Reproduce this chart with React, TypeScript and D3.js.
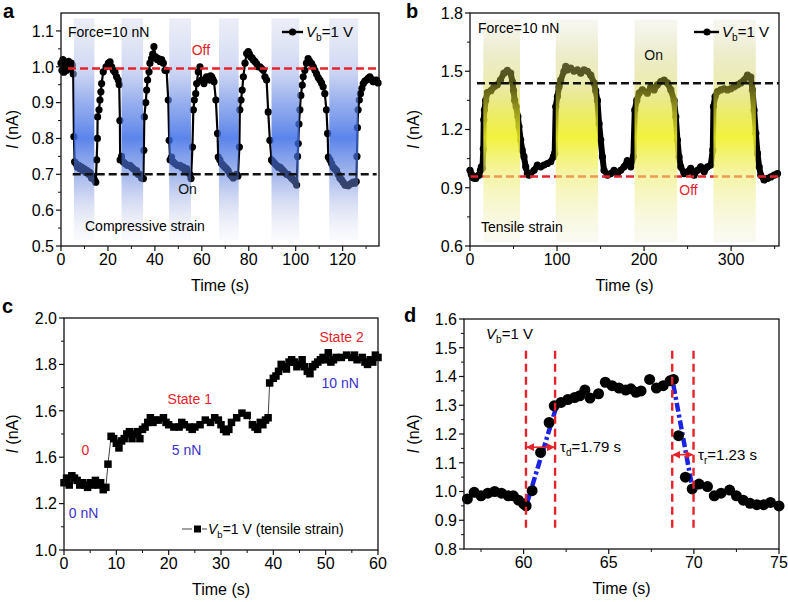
import React from 'react';
import * as d3 from 'd3';

const FONT = '"Liberation Sans", Arial, Helvetica, sans-serif';
const RED = '#e5232b';
const BLUE_TXT = '#3b30c8';

type Pt = [number, number];

// ---------- Panel a: compressive strain ----------
const aSeries: Pt[] = [
  [0, 1.01], [0.4, 0.99], [0.8, 1.02], [1.2, 0.985], [1.6, 1.0], [2.0, 1.01], [2.4, 0.99], [2.8, 1.0], [3.2, 1.015], [3.6, 0.995], [4.0, 1.0], [4.4, 1.01], [4.8, 1.005], [5.2, 0.98],
  [5.5, 0.805], [5.8, 0.735],
  [6.4, 0.73], [7.0, 0.72], [7.6, 0.725], [8.2, 0.715], [8.8, 0.72], [9.4, 0.71], [10.0, 0.715], [10.6, 0.705], [11.2, 0.71], [11.8, 0.7], [12.4, 0.705], [13.0, 0.69], [13.6, 0.695], [14.2, 0.685], [14.8, 0.678],
  [15.2, 0.74], [15.5, 0.8], [15.6, 0.86], [16.2, 0.88], [16.6, 0.907], [17.0, 0.93], [17.3, 0.953], [18.0, 0.986], [19.2, 1.0], [20.2, 1.01], [20.9, 1.014], [21.6, 1.0], [22.3, 0.99], [23.0, 0.985], [23.7, 0.972], [24.4, 0.963], [24.8, 0.95], [25.1, 0.85], [25.2, 0.74],
  [25.8, 0.75], [26.5, 0.735], [27.3, 0.73], [28.3, 0.725], [29.4, 0.725], [30.1, 0.72], [30.8, 0.716], [31.5, 0.712], [32.2, 0.71], [32.9, 0.7], [33.6, 0.7], [34.3, 0.69], [35.1, 0.688],
  [35.3, 0.767], [35.5, 0.86], [36.1, 0.9], [36.5, 0.935], [36.9, 0.963], [37.5, 0.986], [37.9, 1.01], [38.6, 1.023], [39.1, 1.035], [39.6, 1.056], [40.3, 1.028], [41.0, 1.02], [41.5, 1.023], [42.2, 1.015], [42.9, 1.02], [43.6, 1.01], [44.3, 0.99], [45.0, 0.99], [45.7, 0.907], [46.1, 0.795],
  [46.5, 0.74], [47.1, 0.748], [47.8, 0.735], [48.6, 0.73], [49.6, 0.725], [50.7, 0.725], [51.4, 0.72], [52.1, 0.72], [52.8, 0.71], [53.5, 0.716], [54.2, 0.705], [54.9, 0.7], [55.4, 0.688],
  [56.0, 0.776], [56.4, 0.88], [56.8, 0.907], [57.4, 0.925], [57.8, 0.953], [58.5, 0.986], [59.2, 1.0], [59.9, 0.963], [60.4, 0.96], [60.9, 0.953], [61.5, 0.965], [62.0, 0.972], [62.6, 0.97], [63.2, 0.963], [63.7, 0.975], [64.2, 0.972], [64.7, 0.965], [65.2, 0.958], [66.0, 0.907], [66.7, 0.814], [67.0, 0.748],
  [67.7, 0.74], [68.4, 0.73], [69.1, 0.725], [69.8, 0.72], [70.5, 0.716], [71.2, 0.71], [72.0, 0.7], [72.7, 0.695], [73.4, 0.69], [74.1, 0.695], [74.8, 0.7], [75.4, 0.695],
  [76.0, 0.776], [76.2, 0.88], [76.7, 0.907], [77.2, 0.935], [77.7, 0.972], [78.4, 1.01], [79.1, 1.037], [79.8, 1.042], [80.3, 1.035], [80.8, 1.028], [81.4, 1.025], [81.9, 1.019], [82.6, 1.015], [83.3, 1.009], [84.0, 1.0], [84.8, 1.0], [85.5, 0.995], [86.2, 0.99], [86.9, 0.972], [87.6, 0.963], [88.3, 0.874], [89.0, 0.795], [89.7, 0.74],
  [90.4, 0.735], [91.1, 0.73], [91.8, 0.725], [92.6, 0.72], [93.3, 0.72], [94.0, 0.715], [94.7, 0.71], [95.4, 0.705], [96.1, 0.7], [96.8, 0.7], [97.5, 0.695], [98.2, 0.69], [99.0, 0.685], [99.7, 0.68], [100.4, 0.67],
  [100.8, 0.75], [101.1, 0.786], [101.4, 0.84], [101.8, 0.88], [102.2, 0.92], [102.8, 0.949], [103.2, 0.972], [103.9, 0.99], [104.6, 1.01], [105.3, 1.023], [106.0, 1.015], [106.8, 1.009], [107.5, 1.0], [108.2, 0.99], [108.9, 0.98], [109.6, 0.97], [110.3, 0.963], [111.0, 0.955], [111.7, 0.944], [112.4, 0.925], [113.1, 0.88], [113.6, 0.814], [113.9, 0.748], [114.6, 0.74],
  [115.3, 0.73], [116.0, 0.72], [116.7, 0.715], [117.4, 0.71], [118.1, 0.7], [118.8, 0.69], [119.5, 0.685], [120.2, 0.678], [121.0, 0.67], [121.7, 0.67], [122.4, 0.668], [123.1, 0.672], [123.8, 0.675], [124.5, 0.678], [125.2, 0.675], [125.8, 0.68],
  [126.1, 0.75], [126.3, 0.83], [126.6, 0.88], [127.1, 0.907], [127.6, 0.925], [128.2, 0.94], [128.8, 0.953], [129.5, 0.96], [130.2, 0.963], [130.9, 0.968], [131.6, 0.972], [132.3, 0.965], [133.0, 0.958], [133.7, 0.962], [134.4, 0.963], [135.1, 0.955],
];
const aBands: Pt[] = [[5.5, 14.2], [25.8, 35.0], [46.1, 55.4], [67.3, 75.7], [89.7, 101.5], [114.3, 126.6]];
const aOffLevel = 0.995;
const aOnLevel = 0.7;
const aXTicks = [0, 20, 40, 60, 80, 100, 120];
const aYTicks = [0.5, 0.6, 0.7, 0.8, 0.9, 1.0, 1.1];

// ---------- Panel b: tensile strain ----------
const bSeries: Pt[] = [
  [0, 0.99], [1.5, 0.97], [2.7, 0.956], [4.5, 0.95], [6.5, 0.948], [8.5, 0.96], [10.3, 0.965], [12, 0.99], [13, 1.008], [14.3, 1.0],
  [15.3, 1.1], [15.8, 1.25], [16.5, 1.3], [18, 1.35], [20, 1.39], [24, 1.4], [27.6, 1.42], [31.4, 1.43], [35, 1.455], [39, 1.49], [43, 1.504], [46.7, 1.49], [48.7, 1.447], [50, 1.4], [51.3, 1.35], [53, 1.318], [55, 1.266], [56.3, 1.215], [58.2, 1.146], [60, 1.094], [62, 1.06], [64, 1.008], [65.9, 0.973], [67.8, 0.965], [69.7, 0.973], [73.6, 0.99], [77.4, 1.017], [81.2, 1.008], [85, 1.017], [88.9, 1.025], [92.7, 1.034], [95.8, 1.06], [97.3, 1.077],
  [98.5, 1.318], [100.4, 1.37], [102.3, 1.42], [104.2, 1.455], [108, 1.5], [110, 1.525], [111.9, 1.507], [115.7, 1.516], [119.5, 1.5], [123.4, 1.507], [127.2, 1.49], [131, 1.507], [134.9, 1.5], [138.7, 1.48], [142.5, 1.44], [144.4, 1.4], [146.4, 1.35], [148.3, 1.23], [150.2, 1.146], [152.1, 1.06], [154, 0.99], [157.9, 0.965], [161.7, 0.973], [165.5, 0.99], [169.3, 0.973], [173.2, 0.99], [177, 1.008], [180.8, 1.04], [184.7, 1.008], [187.7, 1.06],
  [189.3, 1.3], [191.6, 1.35], [194.3, 1.387], [198, 1.404], [203.8, 1.387], [207.7, 1.42], [211.5, 1.404], [215.3, 1.43], [219.2, 1.447], [223, 1.455], [226.8, 1.44], [230.7, 1.404], [234.5, 1.35], [236.4, 1.266], [238.3, 1.146], [240.2, 1.06], [242.1, 1.008], [246, 0.973], [249.8, 0.982], [253.6, 1.0], [257.5, 0.965], [261.3, 0.99], [265.1, 1.008], [269, 0.982], [272.8, 1.008], [276.6, 1.017], [278.9, 1.094],
  [279.7, 1.318], [281.6, 1.37], [284.3, 1.395], [288.1, 1.404], [292, 1.41], [295.8, 1.404], [299.6, 1.41], [303.4, 1.42], [307.3, 1.43], [311.1, 1.44], [314.9, 1.455], [318.8, 1.48], [322.6, 1.47], [324.5, 1.404], [326.4, 1.3], [328.4, 1.18], [330.3, 1.077], [332.2, 1.008], [334.1, 0.965], [337.9, 0.94], [341.8, 0.948], [345.6, 0.956], [349.4, 0.965], [353.3, 0.973],
];
const bBands: Pt[] = [[15.3, 57.5], [98.5, 147], [189, 238], [279.7, 328.4]];
const bOnLevel = 1.438;
const bOffLevel = 0.958;
const bXTicks = [0, 100, 200, 300];
const bYTicks = [0.6, 0.9, 1.2, 1.5, 1.8];

// ---------- Panel c: force steps ----------
const cSeries: Pt[] = [
  [0, 1.29], [0.5, 1.31], [1, 1.28], [1.5, 1.32], [2, 1.31], [2.5, 1.3], [3, 1.28], [3.5, 1.29], [4, 1.28], [4.5, 1.27], [5, 1.29], [5.5, 1.28], [6, 1.3], [6.5, 1.28], [7, 1.29], [7.5, 1.26], [8, 1.27],
  [8.4, 1.37], [9, 1.49], [9.5, 1.48], [10, 1.46], [10.5, 1.44], [11, 1.47], [11.5, 1.48], [12, 1.5], [12.5, 1.51], [13, 1.48], [13.5, 1.5], [14, 1.51], [14.5, 1.48], [15, 1.52], [15.5, 1.53], [16, 1.55], [16.5, 1.57], [17, 1.55], [17.5, 1.56], [18, 1.56], [19, 1.57], [19.5, 1.55], [20, 1.54], [21, 1.53], [22, 1.53], [22.5, 1.55], [23, 1.54], [24, 1.53], [24.5, 1.52], [25, 1.53], [26, 1.54], [27, 1.56], [28, 1.55], [28.8, 1.57], [29.5, 1.56], [30, 1.54], [30.5, 1.52], [31, 1.51], [31.5, 1.52], [32, 1.55], [33, 1.57], [34, 1.59], [35, 1.58], [36, 1.54], [36.5, 1.53], [37, 1.52], [37.5, 1.55], [38, 1.54], [38.5, 1.56], [39, 1.57],
  [39.3, 1.72], [40, 1.74], [40.5, 1.75], [41, 1.77], [41.5, 1.8], [42, 1.79], [42.5, 1.78], [43, 1.81], [43.5, 1.82], [44, 1.81], [44.5, 1.79], [45, 1.8], [45.5, 1.82], [46, 1.79], [46.5, 1.77], [47, 1.76], [47.5, 1.79], [48, 1.8], [48.5, 1.81], [49, 1.82], [49.5, 1.83], [50, 1.82], [50.5, 1.85], [51, 1.81], [51.5, 1.82], [52, 1.83], [53, 1.83], [54, 1.84], [55, 1.83], [55.5, 1.84], [56, 1.82], [57, 1.83], [57.5, 1.81], [58, 1.8], [58.5, 1.82], [59, 1.81], [59.5, 1.84], [60, 1.83],
];
const cXTicks = [0, 10, 20, 30, 40, 50, 60];
const cYTicks = [1.0, 1.2, 1.4, 1.6, 1.8, 2.0];
const cYLabels = ['1.0', '1.2', '1.6', '1.6', '1.8', '2.0'];

// ---------- Panel d: response time ----------
const dSeries: Pt[] = [
  [56.7, 0.974], [57.1, 0.997], [57.5, 0.985], [57.9, 0.994], [58.3, 1.0], [58.7, 0.994], [59.1, 0.985], [59.4, 0.985], [59.7, 0.97], [60.0, 0.957], [60.15, 0.95],
  [60.5, 1.003], [61.0, 1.136], [61.5, 1.24], [61.8, 1.298],
  [62.2, 1.31], [62.6, 1.32], [63.0, 1.327], [63.3, 1.333], [63.6, 1.353], [63.9, 1.325], [64.4, 1.34], [64.8, 1.38], [65.2, 1.368], [65.6, 1.36], [66.0, 1.353], [66.3, 1.357], [66.6, 1.345], [66.9, 1.35], [67.4, 1.39], [67.8, 1.36], [68.2, 1.368], [68.6, 1.385], [68.8, 1.39],
  [69.1, 1.194], [69.5, 1.05], [69.9, 1.009],
  [70.3, 1.026], [70.8, 1.017], [71.2, 0.985], [71.6, 0.994], [72.1, 1.005], [72.5, 0.985], [72.9, 0.97], [73.3, 0.959], [73.7, 0.954], [74.1, 0.954], [74.5, 0.962], [75.0, 0.95],
];
const dRiseFit: Pt[] = [[60.2, 0.96], [62.0, 1.31]];
const dFallFit: Pt[] = [[68.8, 1.37], [69.95, 1.0]];
const dMarkers = [60.14, 61.85, 68.73, 69.98];
const dXTicks = [60, 65, 70, 75];
const dYTicks = [0.8, 0.9, 1.0, 1.1, 1.2, 1.3, 1.4, 1.5, 1.6];

// ---------- helpers ----------
type Lin = d3.ScaleLinear<number, number>;

function ITitle({ x, y }: { x: number; y: number }) {
  return (
    <text transform={`translate(${x},${y}) rotate(-90)`} textAnchor="middle" fontSize={16} fontFamily={FONT}>
      <tspan fontStyle="italic">I</tspan> (nA)
    </text>
  );
}

function Vb({ x, y, size = 15, rest = '=1 V' }: { x: number; y: number; size?: number; rest?: string }) {
  return (
    <text x={x} y={y} fontSize={size} fontFamily={FONT}>
      <tspan fontStyle="italic">V</tspan>
      <tspan fontSize={size * 0.68} dy={4}>b</tspan>
      <tspan dy={-4}>{rest}</tspan>
    </text>
  );
}

function Axes({ x, y, xTicks, xMinor, yTicks, yMinor, yLabels, yFmt, titleOffset }: {
  x: Lin; y: Lin; xTicks: number[]; xMinor: number[]; yTicks: number[]; yMinor: number[];
  yLabels?: string[]; yFmt: (v: number) => string; titleOffset: number;
}) {
  const [x0, x1] = x.range();
  const [yb, yt] = y.range();
  return (
    <g fontFamily={FONT}>
      <rect x={x0} y={yt} width={x1 - x0} height={yb - yt} fill="none" stroke="#111" strokeWidth={1.3} />
      {xTicks.map((v) => (
        <g key={'xt' + v}>
          <line x1={x(v)} x2={x(v)} y1={yb} y2={yb + 5} stroke="#111" strokeWidth={1.2} />
          <text x={x(v)} y={yb + 19} textAnchor="middle" fontSize={16}>{v}</text>
        </g>
      ))}
      {xMinor.map((v) => (
        <line key={'xm' + v} x1={x(v)} x2={x(v)} y1={yb} y2={yb + 3} stroke="#111" strokeWidth={1} />
      ))}
      {yTicks.map((v, i) => (
        <g key={'yt' + v}>
          <line x1={x0 - 5} x2={x0} y1={y(v)} y2={y(v)} stroke="#111" strokeWidth={1.2} />
          <text x={x0 - 7} y={y(v)} dy="0.36em" textAnchor="end" fontSize={16}>{yLabels ? yLabels[i] : yFmt(v)}</text>
        </g>
      ))}
      {yMinor.map((v) => (
        <line key={'ym' + v} x1={x0 - 3} x2={x0} y1={y(v)} y2={y(v)} stroke="#111" strokeWidth={1} />
      ))}
      <text x={(x0 + x1) / 2} y={yb + 45} textAnchor="middle" fontSize={16}>Time (s)</text>
      <ITitle x={x0 - titleOffset} y={(yb + yt) / 2} />
    </g>
  );
}

const f1 = d3.format('.1f');

function PanelA() {
  const x = d3.scaleLinear().domain([0, 135.5]).range([61, 379]);
  const y = d3.scaleLinear().domain([0.5, 1.15]).range([246, 13]);
  const line = d3.line<Pt>().x((d) => x(d[0])).y((d) => y(d[1]));
  const yMinor = d3.range(0.55, 1.15, 0.1);
  return (
    <g>
      <defs>
        <linearGradient id="gradA" x1="0" y1="0" x2="0" y2="1">
          <stop offset="0" stopColor="rgb(200,208,232)" stopOpacity={0.35} />
          <stop offset="0.22" stopColor="rgb(165,180,232)" stopOpacity={0.5} />
          <stop offset="0.38" stopColor="rgb(95,132,228)" stopOpacity={0.65} />
          <stop offset="0.54" stopColor="rgb(55,105,230)" stopOpacity={0.82} />
          <stop offset="0.7" stopColor="rgb(85,122,222)" stopOpacity={0.55} />
          <stop offset="0.86" stopColor="rgb(165,178,226)" stopOpacity={0.35} />
          <stop offset="1" stopColor="rgb(215,220,240)" stopOpacity={0.12} />
        </linearGradient>
      </defs>
      <path d={line(aSeries) || ''} fill="none" stroke="#000" strokeWidth={2.2} />
      {aSeries.map((d, i) => (
        <circle key={i} cx={x(d[0])} cy={y(d[1])} r={3.6} fill="#000" />
      ))}
      {aBands.map((b, i) => (
        <rect key={i} x={x(b[0])} width={x(b[1]) - x(b[0])} y={y(1.135)} height={y(0.517) - y(1.135)} fill="url(#gradA)" />
      ))}
      <line x1={x(3)} x2={x(135.5)} y1={y(aOffLevel)} y2={y(aOffLevel)} stroke={RED} strokeWidth={2.4} strokeDasharray="8,4" />
      <line x1={x(5)} x2={x(134.5)} y1={y(aOnLevel)} y2={y(aOnLevel)} stroke="#111" strokeWidth={2.4} strokeDasharray="8,4" />
      <text x={x(59.6)} y={y(1.032)} textAnchor="middle" fontSize={14} fill={RED} fontFamily={FONT}>Off</text>
      <text x={x(53.9)} y={y(0.645)} textAnchor="middle" fontSize={14} fill="#111" fontFamily={FONT}>On</text>
      <text x={68} y={37} fontSize={14} fontFamily={FONT}>Force=10 nN</text>
      <text x={85} y={231} fontSize={14} fontFamily={FONT}>Compressive strain</text>
      <line x1={282} x2={303} y1={32} y2={32} stroke="#000" strokeWidth={2.4} />
      <circle cx={292.5} cy={32} r={3.6} fill="#000" />
      <Vb x={306} y={37} />
      <Axes x={x} y={y} xTicks={aXTicks} xMinor={[10, 30, 50, 70, 90, 110, 130]} yTicks={aYTicks} yMinor={yMinor} yFmt={f1} titleOffset={43} />
      <text x={3} y={18} fontSize={20} fontWeight="bold" fontFamily={FONT}>a</text>
    </g>
  );
}

function PanelB() {
  const x = d3.scaleLinear().domain([0, 355]).range([470, 779]);
  const y = d3.scaleLinear().domain([0.6, 1.8]).range([246, 13]);
  const line = d3.line<Pt>().x((d) => x(d[0])).y((d) => y(d[1]));
  return (
    <g>
      <defs>
        <linearGradient id="gradB" x1="0" y1="0" x2="0" y2="1">
          <stop offset="0" stopColor="rgb(228,228,205)" stopOpacity={0.3} />
          <stop offset="0.14" stopColor="rgb(215,215,150)" stopOpacity={0.45} />
          <stop offset="0.28" stopColor="rgb(205,205,60)" stopOpacity={0.4} />
          <stop offset="0.42" stopColor="rgb(228,228,40)" stopOpacity={0.7} />
          <stop offset="0.53" stopColor="rgb(240,240,35)" stopOpacity={0.88} />
          <stop offset="0.7" stopColor="rgb(238,238,110)" stopOpacity={0.6} />
          <stop offset="1" stopColor="rgb(238,238,215)" stopOpacity={0.3} />
        </linearGradient>
      </defs>
      <path d={line(bSeries) || ''} fill="none" stroke="#000" strokeWidth={6} strokeLinejoin="round" strokeLinecap="round" />
      {bSeries.map((d, i) => (
        <circle key={i} cx={x(d[0])} cy={y(d[1])} r={3.6} fill="#000" />
      ))}
      <line x1={x(0)} x2={x(355)} y1={y(bOffLevel)} y2={y(bOffLevel)} stroke={RED} strokeWidth={2.4} strokeDasharray="8,4" />
      {bBands.map((b, i) => (
        <rect key={i} x={x(b[0])} width={x(b[1]) - x(b[0])} y={y(1.766)} height={y(0.62) - y(1.766)} fill="url(#gradB)" />
      ))}
      <line x1={x(8)} x2={x(355)} y1={y(bOnLevel)} y2={y(bOnLevel)} stroke="#111" strokeWidth={2.4} strokeDasharray="8,4" />
      <text x={x(211)} y={y(1.56)} textAnchor="middle" fontSize={14} fill="#111" fontFamily={FONT}>On</text>
      <text x={x(251)} y={y(0.865)} textAnchor="middle" fontSize={14} fill={RED} fontFamily={FONT}>Off</text>
      <text x={478} y={33} fontSize={14} fontFamily={FONT}>Force=10 nN</text>
      <text x={481} y={232} fontSize={14} fontFamily={FONT}>Tensile strain</text>
      <line x1={694} x2={719} y1={32} y2={32} stroke="#000" strokeWidth={2.4} />
      <circle cx={707} cy={32} r={3.6} fill="#000" />
      <Vb x={722} y={37} />
      <Axes x={x} y={y} xTicks={bXTicks} xMinor={[50, 150, 250, 350]} yTicks={bYTicks} yMinor={[0.75, 1.05, 1.35, 1.65]} yFmt={f1} titleOffset={51} />
      <text x={406} y={18} fontSize={20} fontWeight="bold" fontFamily={FONT}>b</text>
    </g>
  );
}

function PanelC() {
  const x = d3.scaleLinear().domain([0, 60]).range([64, 378]);
  const y = d3.scaleLinear().domain([1.0, 2.0]).range([550, 318]);
  const line = d3.line<Pt>().x((d) => x(d[0])).y((d) => y(d[1]));
  const s = 7.5;
  return (
    <g>
      <path d={line(cSeries) || ''} fill="none" stroke="#444" strokeWidth={1} />
      {cSeries.map((d, i) => (
        <rect key={i} x={x(d[0]) - s / 2} y={y(d[1]) - s / 2} width={s} height={s} fill="#000" />
      ))}
      <text x={x(4.1)} y={y(1.43) + 5} textAnchor="middle" fontSize={14} fill={RED} fontFamily={FONT}>0</text>
      <text x={x(0.9)} y={y(1.16) + 5} fontSize={14} fill={BLUE_TXT} fontFamily={FONT}>0 nN</text>
      <text x={x(19.8)} y={y(1.65) + 5} fontSize={14} fill={RED} fontFamily={FONT}>State 1</text>
      <text x={x(20.6)} y={y(1.43) + 5} fontSize={14} fill={BLUE_TXT} fontFamily={FONT}>5 nN</text>
      <text x={x(48.8)} y={y(1.92) + 5} fontSize={14} fill={RED} fontFamily={FONT}>State 2</text>
      <text x={x(49.2)} y={y(1.72) + 5} fontSize={14} fill={BLUE_TXT} fontFamily={FONT}>10 nN</text>
      <line x1={182} x2={192} y1={529} y2={529} stroke="#444" strokeWidth={1} />
      <rect x={194} y={525.5} width={7} height={7} fill="#000" />
      <line x1={202} x2={207} y1={529} y2={529} stroke="#444" strokeWidth={1} />
      <Vb x={208} y={534} size={14} rest="=1 V (tensile strain)" />
      <Axes x={x} y={y} xTicks={cXTicks} xMinor={[5, 15, 25, 35, 45, 55]} yTicks={cYTicks} yMinor={[1.1, 1.3, 1.5, 1.7, 1.9]} yLabels={cYLabels} yFmt={f1} titleOffset={46} />
      <text x={2} y={313} fontSize={20} fontWeight="bold" fontFamily={FONT}>c</text>
    </g>
  );
}

function PanelD() {
  const x = d3.scaleLinear().domain([56.5, 75]).range([464, 779]);
  const y = d3.scaleLinear().domain([0.8, 1.6]).range([549, 319]);
  const line = d3.line<Pt>().x((d) => x(d[0])).y((d) => y(d[1]));
  return (
    <g>
      <defs>
        <marker id="arrR" viewBox="0 0 10 10" refX="9" refY="5" markerWidth="5" markerHeight="5" orient="auto-start-reverse">
          <path d="M0,0 L10,5 L0,10 z" fill={RED} />
        </marker>
      </defs>
      <path d={line(dRiseFit) || ''} fill="none" stroke="#1a22e6" strokeWidth={4.5} strokeDasharray="9,3,3,3" />
      <path d={line(dFallFit) || ''} fill="none" stroke="#1a22e6" strokeWidth={4.5} strokeDasharray="9,3,3,3" />
      {dSeries.map((d, i) => (
        <circle key={i} cx={x(d[0])} cy={y(d[1])} r={5.5} fill="#000" />
      ))}
      {dMarkers.map((m) => (
        <line key={m} x1={x(m)} x2={x(m)} y1={y(1.49)} y2={y(0.86)} stroke={RED} strokeWidth={2.4} strokeDasharray="8,5" />
      ))}
      <line x1={x(dMarkers[0]) + 1} x2={x(dMarkers[1]) - 1} y1={y(1.154)} y2={y(1.154)} stroke={RED} strokeWidth={1.6} markerStart="url(#arrR)" markerEnd="url(#arrR)" />
      <line x1={x(dMarkers[2]) + 1} x2={x(dMarkers[3]) - 1} y1={y(1.128)} y2={y(1.128)} stroke={RED} strokeWidth={1.6} markerStart="url(#arrR)" markerEnd="url(#arrR)" />
      <text x={560} y={y(1.154) + 5} fontSize={15} fontFamily={FONT}>
        τ<tspan fontSize={10} dy={4}>d</tspan><tspan dy={-4}>=1.79 s</tspan>
      </text>
      <text x={698} y={y(1.128) + 5} fontSize={15} fontFamily={FONT}>
        τ<tspan fontSize={10} dy={4}>r</tspan><tspan dy={-4}>=1.23 s</tspan>
      </text>
      <Vb x={486} y={339} />
      <Axes x={x} y={y} xTicks={dXTicks} xMinor={[57.5, 62.5, 67.5, 72.5]} yTicks={dYTicks} yMinor={[0.85, 0.95, 1.05, 1.15, 1.25, 1.35, 1.45, 1.55]} yFmt={f1} titleOffset={45} />
      <text x={404} y={322} fontSize={20} fontWeight="bold" fontFamily={FONT}>d</text>
    </g>
  );
}

export default function App() {
  return (
    <svg width={788} height={602} style={{ position: 'absolute', left: 0, top: 0, background: '#fff' }}>
      <rect width={788} height={602} fill="#fff" />
      <PanelA />
      <PanelB />
      <PanelC />
      <PanelD />
    </svg>
  );
}
